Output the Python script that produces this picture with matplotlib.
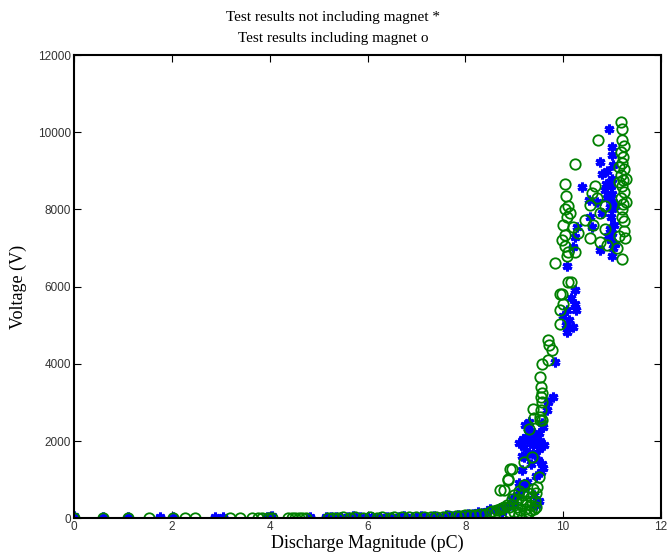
import matplotlib.pyplot as plt

# not including magnet (blue *)
blue_x = [0, 0, 0.6, 1.1, 1.76, 2.02, 2.88, 3.05, 3.95, 4.0, 4.04, 4.83,
          5.15, 5.25, 5.35, 5.45, 5.6, 5.7, 5.85, 6.0, 6.1, 6.25, 6.4, 6.5,
          6.65, 6.75, 6.9, 7.0, 7.1, 7.2, 7.35, 7.45, 7.6, 7.7, 7.85, 7.95,
          8.05, 8.15, 8.25, 8.35, 8.45, 8.5, 8.6, 8.7,
          8.75, 8.85, 8.95, 9.0, 9.05, 9.1, 9.12, 9.15, 9.19, 9.2, 9.22,
          9.22, 9.25, 9.26, 9.28, 9.3, 9.32, 9.35, 9.38, 9.4, 9.42, 9.45,
          9.48, 9.5, 9.5, 9.52, 9.55, 9.56, 9.56, 9.58, 9.6, 9.67, 9.7, 9.8,
          9.84, 9.5, 9.45, 9.4, 9.59, 9.1, 9.3, 9.18, 9.35, 9.45, 9.15,
          10.08, 10.11, 10.08, 10.25, 10.27, 10.25, 10.15, 10.0, 10.05, 10.2,
          10.08, 10.21, 10.25, 10.28, 10.38, 10.52, 10.55, 10.59, 10.76,
          10.76, 10.79, 10.93, 11.0, 11.0, 10.95, 10.85, 10.9, 10.95, 10.8,
          10.7, 11.0, 11.02, 10.98, 11.0, 11.03, 10.97, 11.0, 11.02, 11.0,
          10.98, 11.0, 11.05, 10.95, 11.05, 10.9, 10.88, 11.02, 10.92]
blue_y = [0, 60, 20, 20, 30, 20, 30, 40, 20, 40, 60, 40,
          30, 20, 40, 30, 20, 50, 30, 40, 20, 30, 40, 20,
          30, 50, 30, 40, 60, 30, 50, 40, 70, 60, 90, 80,
          120, 100, 150, 130, 180, 233, 200, 260,
          150, 300, 500, 350, 600, 900, 700, 1243, 1588, 1850, 810,
          2409, 2100, 940, 2300, 1700, 2000, 2250, 1900, 2150, 1650, 1950,
          1500, 1800, 2200, 2000, 1200, 1417, 2460, 2350, 1900, 2797, 3000, 3142,
          4048, 450, 350, 600, 1300, 1950, 2500, 2050, 1400, 1100, 1600,
          4825, 5128, 5387, 5560, 5400, 5905, 5700, 5250, 5000, 4950,
          6527, 7027, 7286, 7545, 8581, 8254, 7804, 7545, 6941,
          9228, 8928, 10075, 9617, 9400, 8700, 8500, 8300, 8050, 7900,
          8200, 6800, 7000, 7200, 7400, 7600, 7800, 8000, 8200, 8400,
          8600, 8800, 7100, 7500, 8100, 9000, 8650, 9150, 7300]

# including magnet (green o)
green_x = [0, 0.6, 1.11, 1.54, 2.02, 2.27, 2.47, 3.19, 3.39, 3.63, 3.77,
           3.85, 3.97, 4.05, 4.38, 4.45, 4.52, 4.6, 4.67, 4.75, 5.2, 5.3,
           5.4, 5.5, 5.65, 5.75, 5.9, 6.05, 6.2, 6.3, 6.45, 6.55, 6.7, 6.85,
           7.0, 7.15, 7.3, 7.4, 7.55, 7.65, 7.8, 7.9, 8.0, 8.1, 8.2, 8.3,
           8.4, 8.5, 8.55, 8.6, 8.65, 8.7, 8.75, 8.8, 8.85,
           8.7, 8.8, 8.88, 8.88, 8.92, 8.95, 9.19, 9.36, 9.5, 9.56,
           9.0, 9.05, 9.08, 9.1, 9.12, 9.15, 9.18, 9.2, 9.22, 9.25, 9.28,
           9.3, 9.32, 9.35, 9.38, 9.4, 9.42, 9.45, 9.47, 9.0, 9.1, 9.25,
           9.35, 9.45, 8.9, 8.95, 8.9,
           9.53, 9.53, 9.55, 9.56, 9.55, 9.56, 9.54, 9.53, 9.39, 9.56, 9.7,
           9.77, 9.72, 9.7, 9.3, 9.4,
           9.94, 10.0, 9.97, 10.09, 10.16, 9.94, 9.94, 9.84, 10.1, 10.25,
           10.04, 10.08, 10.04, 10.2, 10.04, 10.06, 10.04, 10.25, 10.45,
           10.55, 10.59, 10.55, 10.76, 10.89, 10.72, 11.18, 11.2, 11.2,
           11.27, 11.25, 11.2, 11.22, 11.18, 11.25, 11.2, 11.22, 11.18, 11.25,
           11.2, 11.22, 11.18, 11.25, 11.2, 11.15, 11.28, 11.15, 11.28,
           10.0, 10.08, 9.98, 10.1, 10.14, 10.3, 10.6, 10.7, 10.75, 10.85,
           10.85, 11.1, 11.15, 11.2, 11.25, 10.65]
green_y = [0, 0, 0, 0, 0, 0, 0, 0, 0, 0, 0,
           0, 0, 0, 0, 0, 0, 0, 0, 0, 10, 10,
           10, 20, 10, 20, 10, 20, 10, 20, 10, 20, 30, 20,
           30, 20, 40, 30, 40, 50, 60, 50, 70, 90, 80, 110,
           120, 150, 180, 140, 200, 230, 260, 300, 350,
           725, 725, 984, 1010, 1287, 1287, 1458, 1588, 1070, 2538,
           150, 300, 500, 700, 200, 400, 600, 850, 250, 450, 650,
           150, 350, 550, 750, 250, 450, 650, 800, 600, 100, 100,
           200, 300, 300, 500, 150,
           2540, 2624, 2800, 3012, 3150, 3237, 3400, 3660, 2840, 4006, 4092,
           4370, 4490, 4628, 2300, 2600,
           5043, 5560, 5820, 6120, 6120, 5800, 5390, 6600, 6890, 6890,
           7045, 6786, 7330, 7545, 8003, 8340, 8650, 9187, 7718,
           8107, 8425, 7252, 7156, 7070, 9808, 10264, 10093, 6726,
           7250, 7450, 8000, 8150, 8300, 8450, 8600, 8750, 8900, 9050,
           9200, 9350, 9500, 9650, 9800, 8700, 8800, 9100, 8200,
           7600, 7800, 7200, 8100, 7900, 7400, 7600, 8300, 7900, 7500,
           8100, 7000, 7300, 7800, 7700, 8600]

xticks = [0, 2, 4, 6, 8, 10, 12]
yticks = [0, 2000, 4000, 6000, 8000, 10000, 12000]

fig = plt.figure(figsize=(6.67, 5.56), dpi=100)
ax = fig.add_axes([0.111, 0.068, 0.88, 0.833])

ax.plot(blue_x, blue_y, linestyle='none', marker=(6, 2, 0), markersize=7,
        markeredgewidth=2.2, color='#0000ff')
ax.plot(green_x, green_y, linestyle='none', marker='o', markersize=7.5,
        markerfacecolor='none', markeredgewidth=1.3, markeredgecolor='#008000')

ax.set_xlim(0, 12)
ax.set_ylim(0, 12000)
ax.set_xticks(xticks)
ax.set_yticks(yticks)
ax.tick_params(direction='in', length=5, top=True, right=True, labelsize=8.5,
               labelcolor='#333333', pad=2)
for lbl in ax.get_xticklabels() + ax.get_yticklabels():
    lbl.set_family('Liberation Sans')
for sp in ax.spines.values():
    sp.set_linewidth(1.5)

ax.set_xlabel('Discharge Magnitude (pC)', family='Liberation Serif', fontsize=13, labelpad=1)
ax.set_ylabel('Voltage (V)', family='Liberation Serif', fontsize=13)
ax.yaxis.set_label_coords(-0.08, 0.5)
fig.text(0.5, 0.98, 'Test results not including magnet *\nTest results including magnet o',
         ha='center', va='top', family='Liberation Serif', fontsize=11, linespacing=1.75)

fig.savefig('out.png', dpi=100)
